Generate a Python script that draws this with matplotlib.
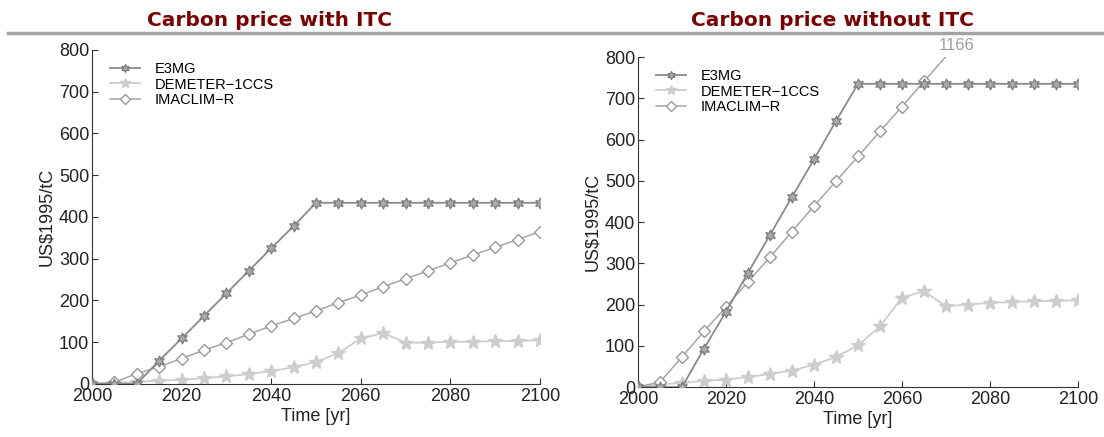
import matplotlib.pyplot as plt
from matplotlib.lines import Line2D

plt.rcParams['font.family'] = ['Liberation Sans', 'DejaVu Sans']

years = list(range(2000, 2101, 5))

# carbon price with induced technical change (US$1995/tC)
e3mg_itc = [0, 1, 0, 56, 109, 163, 217, 271, 325, 378, 434,
            434, 434, 434, 434, 434, 434, 434, 434, 434, 434]
demeter_itc = [0, 3, 5, 8, 10, 14, 18, 24, 31, 40, 53,
               74, 109, 122, 99, 99, 101, 101, 103, 103, 105]
imaclim_itc = [0, 4, 25, 41, 61, 81, 99, 119, 139, 157, 175,
               195, 213, 233, 252, 271, 290, 309, 327, 346, 365]

# carbon price without ITC
e3mg_noitc = [0, 0, 0, 93, 183, 277, 369, 461, 552, 645, 735,
              735, 735, 735, 735, 735, 735, 735, 735, 735, 735]
demeter_noitc = [0, 6, 10, 15, 18, 24, 32, 40, 54, 73, 101,
                 147, 217, 232, 196, 200, 204, 206, 208, 209, 210]
# IMACLIM-R runs off the scale after 2065 and ends at 1166 in 2100
imaclim_years = [2000, 2005, 2010, 2015, 2020, 2025, 2030, 2035, 2040,
                 2045, 2050, 2055, 2060, 2065, 2100]
imaclim_noitc = [0, 12, 73, 135, 194, 255, 315, 377, 439, 499, 559,
                 620, 680, 741, 1166]

titles = ["Carbon price with ITC", "Carbon price without ITC"]
labels = ["E3MG", "DEMETER\u22121CCS", "IMACLIM\u2212R"]

c_e3mg = '#8a8a8a'
c_dem = '#cdcdcd'
c_ima = '#a6a6a6'

fig = plt.figure(figsize=(11.04, 4.37), dpi=100)

ax1 = fig.add_axes([0.0833, 0.1213, 0.4058, 0.7643])
ax2 = fig.add_axes([0.5779, 0.1144, 0.3986, 0.7551])


def draw(ax, e3mg, dem, ima_x, ima):
    ax.plot(years, e3mg, color=c_e3mg, lw=1.3, marker=(6, 1, 0), ms=8,
            mfc='#a9a9a9', mec='#777777', mew=0.8, label=labels[0], zorder=3)
    ax.plot(years, dem, color=c_dem, lw=1.3, marker='*', ms=10,
            mfc=c_dem, mec=c_dem, label=labels[1], zorder=2)
    ax.plot(ima_x, ima, color=c_ima, lw=1.1, marker='D', ms=6.5,
            mfc='white', mec='#999999', mew=1.0, label=labels[2], zorder=2)
    ax.set_xlim(2000, 2100)
    ax.set_ylim(0, 800)
    ax.set_xticks(range(2000, 2101, 20))
    ax.set_yticks(range(0, 801, 100))
    for s in ['top', 'right']:
        ax.spines[s].set_visible(False)
    for s in ['left', 'bottom']:
        ax.spines[s].set_color('#333333')
        ax.spines[s].set_linewidth(0.8)
    ax.tick_params(direction='in', length=4, width=0.8, color='#333333',
                   labelsize=13, labelcolor='#222222', pad=2)
    ax.tick_params(axis='x', pad=3)
    ax.set_xlabel("Time [yr]", fontsize=13, color='#222222', labelpad=2)
    ax.set_ylabel("US$1995/tC", fontsize=13, color='#222222', labelpad=3)
    ax.legend(loc='upper left', frameon=False, fontsize=10.5,
              bbox_to_anchor=(0.02, 0.99), handlelength=2.1,
              labelspacing=0.1, handletextpad=1.0, borderaxespad=0.2,
              markerscale=0.75)


draw(ax1, e3mg_itc, demeter_itc, years, imaclim_itc)
draw(ax2, e3mg_noitc, demeter_noitc, imaclim_years, imaclim_noitc)

ax2.text(2072.5, 810, "1166", color='#a0a0a0', fontsize=12,
         ha='center', va='bottom', clip_on=False)

# header rule and panel titles
fig.add_artist(Line2D([0.007, 1.0], [0.924, 0.924], color='#a3a3a3',
                      lw=2.5, transform=fig.transFigure))
fig.text(0.244, 0.953, titles[0], ha='center', va='center',
         fontsize=14.5, fontweight='bold', color='#7b0000',
         family='DejaVu Sans')
fig.text(0.754, 0.953, titles[1], ha='center', va='center',
         fontsize=14.5, fontweight='bold', color='#7b0000',
         family='DejaVu Sans')

fig.savefig('out.png', dpi=100)
